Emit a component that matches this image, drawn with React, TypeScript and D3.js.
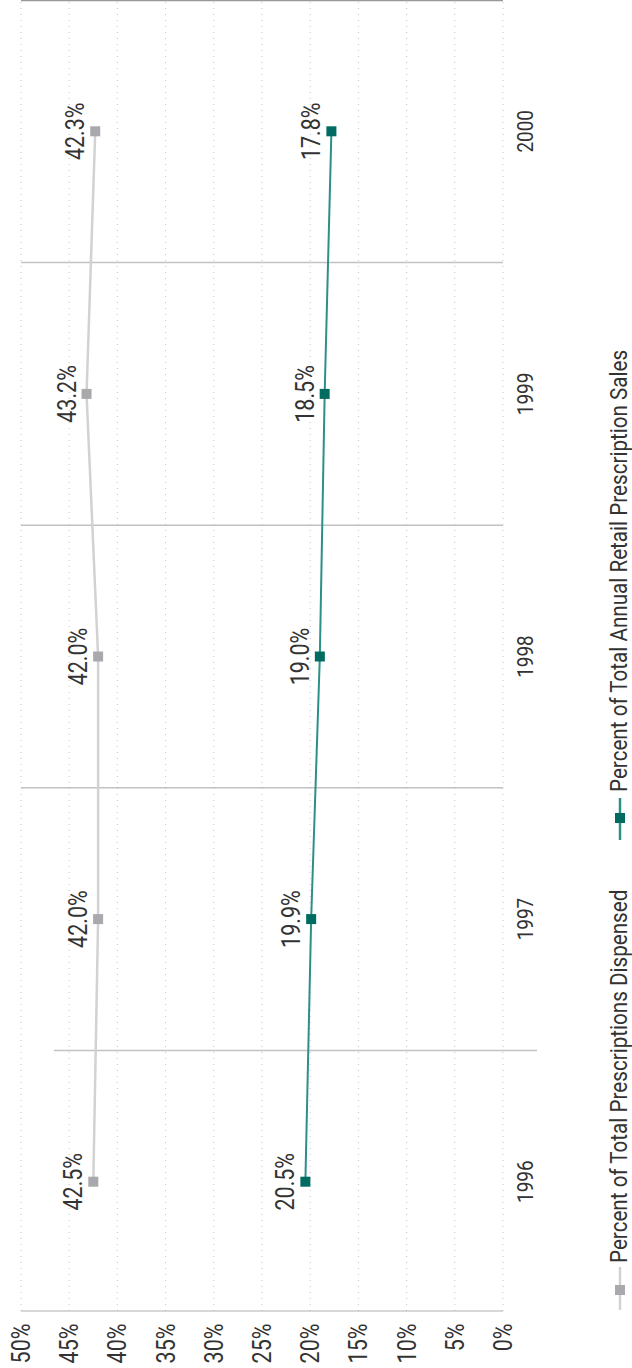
import React from "react";
import * as d3 from "d3";

const years = ["1996", "1997", "1998", "1999", "2000"];
const dispensed = [42.5, 42.0, 42.0, 43.2, 42.3];
const sales = [20.5, 19.9, 19.0, 18.5, 17.8];
const percentTicks = [0, 5, 10, 15, 20, 25, 30, 35, 40, 45, 50];
const seriesNames = [
  "Percent of Total Prescriptions Dispensed",
  "Percent of Total Annual Retail Prescription Sales",
];

const W = 1368; // landscape width (rotated onto page height)
const H = 632;
const SQ = 0.86;
const FONT = "Roboto, 'Noto Sans', sans-serif";
const TXT = "#333";

export default function App() {
  const x = d3.scaleBand<string>().domain(years).range([55, W]).paddingInner(0).paddingOuter(0);
  const y = d3.scaleLinear().domain([0, 50]).range([503, 21]);
  const cx = (yr: string) => (x(yr) as number) + x.bandwidth() / 2;

  const line = d3
    .line<number>()
    .x((_, i) => cx(years[i]))
    .y((v) => y(v));

  const series = [
    { name: seriesNames[0], values: dispensed, line: "#d2d2d2", lw: 2.5, mark: "#a9a9ad" },
    { name: seriesNames[1], values: sales, line: "#2b9088", lw: 2, mark: "#006b60" },
  ];

  const boundaries = years.slice(1).map((yr) => x(yr) as number);
  const axisX = 57;

  const legendItems = [
    { x0: 58, x1: 101, mx: 78, tx: 105 },
    { x0: 528, x1: 570, mx: 550, tx: 576 },
  ];

  return (
    <svg
      width={632}
      height={1368}
      style={{ position: "absolute", left: 0, top: 0, background: "#fff" }}
    >
      <g transform={`translate(0,${W}) rotate(-90)`}>
        {/* dotted gridlines */}
        {percentTicks.map((t) => (
          <line
            key={"g" + t}
            x1={axisX}
            x2={W}
            y1={y(t)}
            y2={y(t)}
            stroke="#c4c4c4"
            strokeWidth={1}
            strokeDasharray="1 5"
          />
        ))}
        {/* band boundary lines */}
        {boundaries.map((b, i) =>
          i === 0 ? (
            <line key={"b" + i} x1={b} x2={b} y1={54} y2={537} stroke="#c2c2c2" strokeWidth={1.5} />
          ) : (
            <line key={"b" + i} x1={b} x2={b} y1={y(50)} y2={y(0)} stroke="#c2c2c2" strokeWidth={1.5} />
          )
        )}
        {/* right edge line */}
        <line x1={W - 0.5} x2={W - 0.5} y1={y(50)} y2={y(0)} stroke="#999" strokeWidth={1.5} />
        {/* axis line */}
        <line x1={axisX} x2={axisX} y1={y(50)} y2={y(0)} stroke="#b0b0b0" strokeWidth={1.2} />

        {/* percent tick labels */}
        {percentTicks.map((t) => (
          <text
            key={"t" + t}
            transform={`translate(44.5,${y(t) + 9}) scale(${SQ},1)`}
            textAnchor="end"
            fontFamily={FONT}
            fontSize={25}
            fill={TXT}
          >
            {t + "%"}
          </text>
        ))}

        {/* year labels */}
        {years.map((yr) => (
          <text
            key={"y" + yr}
            transform={`translate(${cx(yr)},533) scale(${SQ},1)`}
            textAnchor="middle"
            fontFamily={FONT}
            fontSize={22}
            fill={TXT}
          >
            {yr}
          </text>
        ))}

        {/* series */}
        {series.map((s, si) => (
          <g key={"s" + si}>
            <path d={line(s.values) || ""} fill="none" stroke={s.line} strokeWidth={s.lw} />
            {s.values.map((v, i) => (
              <rect
                key={"m" + i}
                x={cx(years[i]) - 5}
                y={y(v) - 5}
                width={10}
                height={10}
                fill={s.mark}
              />
            ))}
            {s.values.map((v, i) => (
              <text
                key={"l" + i}
                transform={`translate(${cx(years[i])},${y(v) - 11}) scale(${SQ},1)`}
                textAnchor="middle"
                fontFamily={FONT}
                fontSize={25}
                fill={TXT}
              >
                {v.toFixed(1) + "%"}
              </text>
            ))}
          </g>
        ))}

        {/* legend */}
        {series.map((s, si) => {
          const L = legendItems[si];
          return (
            <g key={"lg" + si}>
              <line x1={L.x0} x2={L.x1} y1={620} y2={620} stroke={s.line} strokeWidth={2.5} />
              <rect x={L.mx - 5} y={615} width={10} height={10} fill={s.mark} />
              <text
                transform={`translate(${L.tx},627) scale(${SQ},1)`}
                fontFamily={FONT}
                fontSize={24}
                fill={TXT}
              >
                {s.name}
              </text>
            </g>
          );
        })}
      </g>
    </svg>
  );
}
